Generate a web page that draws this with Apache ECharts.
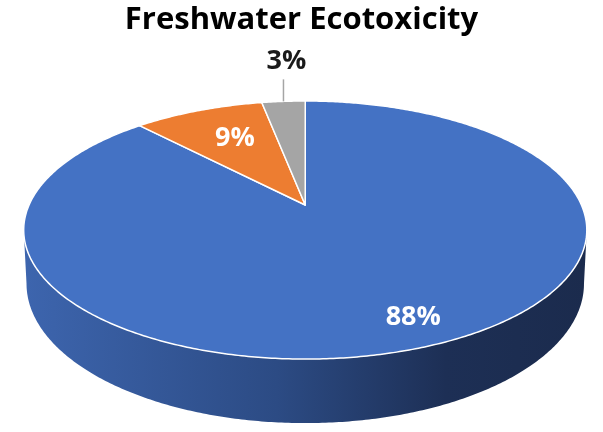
<!DOCTYPE html>
<html>
<head>
<meta charset="utf-8">
<script src="https://cdn.jsdelivr.net/npm/echarts@6/dist/echarts.min.js"></script>
<style>
  html, body { margin: 0; padding: 0; background: #ffffff; }
  #chart { width: 603px; height: 432px; }
</style>
</head>
<body>
<div id="chart"></div>
<script>
// Chart data
const chartTitle = 'Freshwater Ecotoxicity';
const categories = ['Segment A', 'Segment B', 'Segment C'];
const values = [88, 9, 3];
const sliceColors = ['#4472c4', '#ed7d31', '#a5a5a5'];

// Layout of the tilted disc (pixels) and label placement
const disc = { cx: 305.25, cy: 205, rx: 276.2, ry: 124.2, persp: 0.194, depth: 51.6, baseShrink: 0.99 };
const labelRadius = [0.84, 0.665, 1.0];
const labelAngleShift = [-0.03, 0.03, 0];
const labelOutside = [false, false, true];
const labelFont = 'bold 27px "Open Sans", sans-serif';

const total = values.reduce((a, b) => a + b, 0);

// Angle measured clockwise from 12 o'clock, r in [0,1], lift 0 = top face, 1 = base
function project(phi, r, lift) {
  const u = r * Math.sin(phi);
  const v = -r * Math.cos(phi);
  const s = 1 / (1 - disc.persp * v);
  const shrink = lift ? disc.baseShrink : 1;
  return [disc.cx + disc.rx * u * s * shrink, disc.cy + disc.ry * v * s + disc.depth * s * lift];
}

function arc(a0, a1, r, lift) {
  const pts = [];
  const n = Math.max(2, Math.ceil(Math.abs(a1 - a0) / 0.01));
  for (let i = 0; i <= n; i++) pts.push(project(a0 + (a1 - a0) * i / n, r, lift));
  return pts;
}

const sideGradient = new echarts.graphic.LinearGradient(
  disc.cx - disc.rx * 1.02, 0, disc.cx + disc.rx * 1.02, 0,
  [
    { offset: 0, color: '#3d65ae' },
    { offset: 0.45, color: '#2c4b84' },
    { offset: 0.75, color: '#1d2f55' },
    { offset: 1, color: '#1b2b4d' }
  ],
  true
);

function renderItem(params, api) {
  const i = params.dataIndex;
  const val = api.value(0);
  let before = 0;
  for (let j = 0; j < i; j++) before += values[j];
  const a0 = 2 * Math.PI * before / total;
  const a1 = 2 * Math.PI * (before + val) / total;
  const children = [];

  // Visible part of the outer wall (front half, between the silhouette lines)
  const half = Math.acos(disc.persp);
  const lo = Math.max(a0, Math.PI - half);
  const hi = Math.min(a1, Math.PI + half);
  if (hi > lo) {
    const pts = arc(lo, hi, 1, 0).concat(arc(hi, lo, 1, 1));
    children.push({
      type: 'polygon', z2: 1,
      shape: { points: pts },
      style: { fill: sideGradient, stroke: null }
    });
  }

  // Top face of the slice
  const top = [project(0, 0, 0)].concat(arc(a0, a1, 1, 0));
  children.push({
    type: 'polygon', z2: 10,
    shape: { points: top },
    style: { fill: sliceColors[i], stroke: '#ffffff', lineWidth: 1.5, lineJoin: 'round' }
  });

  // Percentage label
  const mid = (a0 + a1) / 2 + labelAngleShift[i];
  const pct = Math.round(val / total * 100) + '%';
  if (labelOutside[i]) {
    const p = project(mid, 1, 0);
    children.push({
      type: 'line', z2: 20,
      shape: { x1: p[0], y1: p[1], x2: p[0], y2: p[1] - 22 },
      style: { stroke: '#a5a5a5', lineWidth: 1.5 }
    });
    children.push({
      type: 'text', z2: 20,
      style: {
        text: pct, x: p[0] + 3, y: p[1] - 40,
        fill: '#1a1a1a', font: labelFont,
        align: 'center', verticalAlign: 'middle'
      }
    });
  } else {
    const p = project(mid, labelRadius[i], 0);
    children.push({
      type: 'text', z2: 20,
      style: {
        text: pct, x: p[0], y: p[1],
        fill: '#ffffff', font: labelFont,
        align: 'center', verticalAlign: 'middle'
      }
    });
  }
  return { type: 'group', children };
}

const chart = echarts.init(document.getElementById('chart'), null, { renderer: 'canvas' });
chart.setOption({
  backgroundColor: '#ffffff',
  animation: false,
  title: {
    text: chartTitle,
    left: 'center',
    top: 0,
    textStyle: { fontFamily: '"Open Sans", sans-serif', fontWeight: 'bold', fontSize: 31, color: '#000000' }
  },
  series: [{
    type: 'custom',
    coordinateSystem: 'none',
    renderItem: renderItem,
    data: values.map((v, i) => ({ name: categories[i], value: [v] }))
  }]
});
</script>
</body>
</html>
